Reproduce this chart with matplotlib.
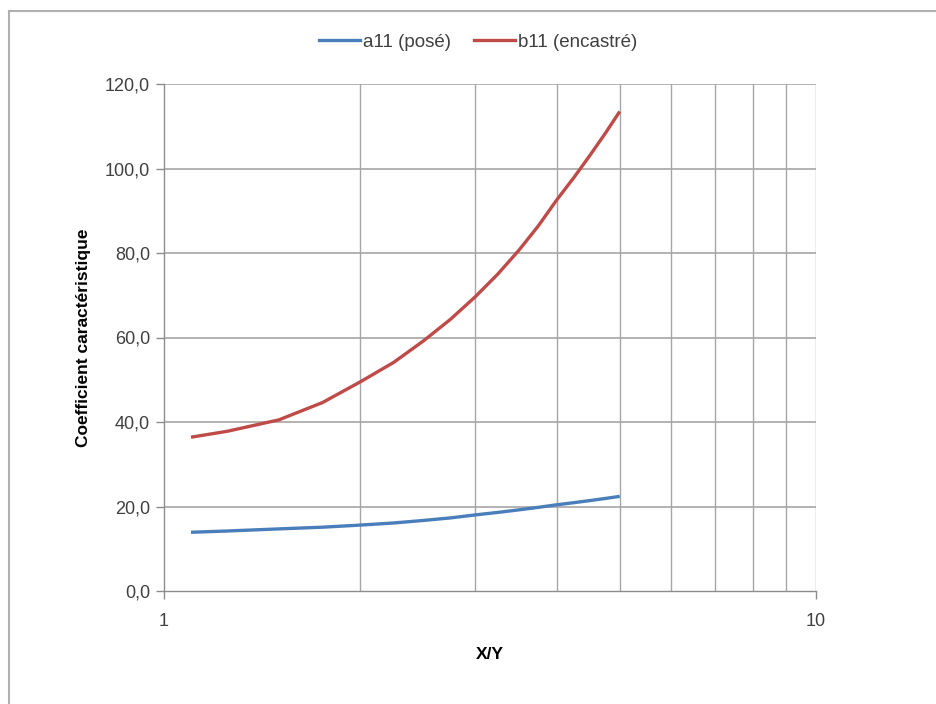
import matplotlib
matplotlib.use("Agg")
import matplotlib.pyplot as plt
from matplotlib.lines import Line2D
from matplotlib.ticker import FixedLocator, FuncFormatter, NullLocator

# Ratio X/Y and characteristic coefficients
ratio = [1.1, 1.25, 1.5, 1.75, 2.0, 2.25, 2.5, 2.75, 3.0, 3.25, 3.5, 3.75, 4.0, 4.25, 4.5, 4.75, 5.0]
a11_pose = [13.9, 14.2, 14.7, 15.1, 15.6, 16.1, 16.7, 17.3, 18.0, 18.6, 19.2, 19.8, 20.4, 20.9, 21.4, 21.9, 22.4]
b11_encastre = [36.4, 37.8, 40.5, 44.6, 49.5, 54.1, 59.2, 64.3, 69.6, 75.0, 80.6, 86.4, 92.5, 97.8, 103.1, 108.3, 113.5]

y_ticks = [0, 20, 40, 60, 80, 100, 120]
x_ticks = [1, 10]
x_grid = [2, 3, 4, 5, 6, 7, 8, 9]

blue = "#4a7ebb"
red = "#be4b48"
grid_col = "#a6a6a6"
text_col = "#404040"

plt.rcParams["font.family"] = ["Liberation Sans", "DejaVu Sans"]

fig = plt.figure(figsize=(9.37, 7.04), dpi=100)
ax = fig.add_axes([164 / 937, 1 - 591 / 704, (816 - 164) / 937, (591 - 84) / 704])

ax.plot(ratio, a11_pose, color=blue, lw=2.4, solid_capstyle="butt", solid_joinstyle="round",
        label="a11 (posé)", zorder=3)
ax.plot(ratio, b11_encastre, color=red, lw=2.4, solid_capstyle="butt", solid_joinstyle="round",
        label="b11 (encastré)", zorder=3)

ax.set_xscale("log")
ax.set_xlim(1, 10)
ax.set_ylim(0, 120)

ax.xaxis.set_major_locator(FixedLocator(x_ticks))
ax.xaxis.set_minor_locator(NullLocator())
ax.xaxis.set_major_formatter(FuncFormatter(lambda v, p: f"{v:g}"))
ax.yaxis.set_major_locator(FixedLocator(y_ticks))
ax.yaxis.set_major_formatter(FuncFormatter(lambda v, p: f"{v:.1f}".replace(".", ",")))

# Gridlines
for yv in y_ticks[1:]:
    ax.axhline(yv, color=grid_col, lw=1.2, zorder=1)
for xv in x_grid + [10]:
    ax.axvline(xv, color=grid_col, lw=1.0, zorder=1)

for side in ["top", "right"]:
    ax.spines[side].set_visible(False)
for side in ["left", "bottom"]:
    ax.spines[side].set_color("#8c8c8c")
    ax.spines[side].set_linewidth(1.0)

ax.tick_params(axis="both", direction="out", length=6, width=1.0, color="#8c8c8c",
               labelsize=13, labelcolor=text_col, pad=4)
ax.tick_params(axis="x", pad=10)

ax.set_ylabel("Coefficient caractéristique", fontsize=12.5, fontweight="bold", color="black", labelpad=10)
ax.set_xlabel("X/Y", fontsize=12.5, fontweight="bold", color="black", labelpad=12)

handles = [Line2D([], [], color=blue, lw=2.4), Line2D([], [], color=red, lw=2.4)]
fig.legend(handles, ["a11 (posé)", "b11 (encastré)"], loc="center", bbox_to_anchor=(478 / 937, 1 - 42 / 704),
           ncol=2, frameon=False, fontsize=13.5, handlelength=2.2, handletextpad=0.15, columnspacing=1.2,
           labelcolor=text_col)

# Chart area border (top and left edges)
fig.add_artist(Line2D([9 / 937, 1], [1 - 11 / 704, 1 - 11 / 704], color="#b0b0b0", lw=1.5, transform=fig.transFigure))
fig.add_artist(Line2D([9 / 937, 9 / 937], [0, 1 - 11 / 704], color="#b0b0b0", lw=1.5, transform=fig.transFigure))

fig.savefig("out.png", dpi=100)
